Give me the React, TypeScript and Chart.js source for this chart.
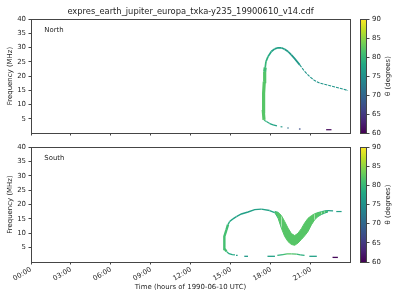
import React, { useEffect, useRef } from "react";
import { Chart, registerables } from "chart.js";

Chart.register(...registerables);

// ---------------- data ----------------
const TITLE = "expres_earth_jupiter_europa_txka-y235_19900610_v14.cdf";
const X_TITLE = "Time (hours of 1990-06-10 UTC)";
const Y_TITLE = "Frequency (MHz)";
const CB_TITLE = "θ (degrees)";
const X_TICK_HOURS = [0, 3, 6, 9, 12, 15, 18, 21];
const Y_TICKS = [5, 10, 15, 20, 25, 30, 35, 40];
const CB_TICKS = [60, 65, 70, 75, 80, 85, 90];
const X_MAX = 23.93;

// North hemisphere
const northBandTime = [17.48, 17.43, 17.43, 17.47, 17.5, 17.53, 17.57];
const northBandFreq = [4.6, 7.5, 10.5, 14.0, 18.0, 21.5, 23.0];
const northBandTheta = [82, 82, 82, 82, 82, 81.5, 80.5];

const northArcTime = [17.53, 17.57, 17.63, 17.78, 18.03, 18.28, 18.53, 18.78, 19.03, 19.28, 19.53, 19.78, 20.16];
const northArcFreq = [21.5, 23.0, 25.1, 26.8, 28.6, 29.5, 29.9, 29.9, 29.4, 28.6, 27.4, 26.1, 23.9];
const northArcTheta = [81, 80, 79.5, 78.5, 77.5, 77, 77, 77, 76.5, 76.5, 76, 76, 76];

const northTailTime = [20.16, 20.53, 20.9, 21.28, 21.66, 22.16, 22.66, 23.16, 23.78];
const northTailFreq = [23.9, 21.6, 19.8, 18.4, 17.5, 16.9, 16.3, 15.75, 14.9];
const northTailTheta = [76, 75.5, 75.5, 75.5, 75.5, 75.5, 75.5, 75.5, 75.5];

const northLowTime = [17.48, 17.56, 17.66, 17.91, 18.16, 18.45, 18.45, 18.72, 18.86, 18.86, 19.22, 19.34, 19.34, 20.1, 20.22, 20.22, 22.14, 22.54];
const northLowFreq = [4.6, 4.3, 4.0, 3.3, 2.85, 2.5, null, 2.2, 2.15, null, 1.75, 1.75, null, 1.4, 1.4, null, 1.15, 1.15];
const northLowTheta = [80, 80, 79, 78, 77.5, 77, 76, 76, 76, 71, 71, 71, 67, 67, 67, 60.5, 60.5, 60.5];

// South hemisphere
const southLeftTime = [14.66, 14.53, 14.48, 14.53, 14.66, 14.78];
const southLeftFreq = [3.7, 4.5, 6.6, 8.9, 11.2, 13.0];
const southLeftTheta = [81, 81, 81, 81, 81, 80];

const southArcTime = [14.78, 14.9, 15.15, 15.41, 15.78, 16.28, 16.78, 17.28, 17.9, 18.28];
const southArcFreq = [13.0, 14.1, 15.0, 15.8, 16.7, 17.4, 18.2, 18.4, 17.9, 17.2];
const southArcTheta = [79, 78, 77.5, 77, 77, 77, 77, 77, 77.5, 78];

const southLowTime = [14.66, 14.85, 15.1, 15.3, 15.3, 15.38, 15.5, 15.5, 16.0, 16.28, 16.28, 17.74, 18.3, 18.3, 18.48, 18.9, 19.2, 19.55, 19.93, 20.2, 20.52, 20.52, 20.88, 21.44, 21.44, 22.62, 23.02];
const southLowFreq = [3.7, 2.9, 2.6, 2.45, null, 2.3, 2.3, null, 1.98, 1.98, null, 1.98, 1.98, null, 2.3, 2.6, 2.8, 2.85, 2.75, 2.45, 2.3, null, 1.98, 1.98, null, 1.6, 1.6];
const southLowTheta = [80, 78, 78, 78, 78, 77, 77, 77, 76, 76, 76, 77, 77, 77, 78.5, 80, 82, 82, 81, 79, 78.5, 78.5, 77, 77, 77, 60.5, 60.5];

const southBandTime = [18.28, 18.53, 18.78, 19.03, 19.28, 19.53, 19.78, 20.03, 20.28, 20.53, 20.78, 21.03, 21.28, 21.53, 21.78, 22.03, 22.28];
const southBandLow = [17.2, 15.3, 11.8, 8.9, 7.1, 6.1, 5.8, 6.6, 7.8, 9.1, 10.6, 12.9, 14.7, 15.8, 16.5, 17.0, 17.4];
const southBandHigh = [17.6, 17.3, 16.2, 14.1, 11.8, 9.9, 9.2, 10.0, 11.6, 13.6, 15.2, 16.1, 16.8, 17.2, 17.5, 17.8, 17.9];
const southBandTheta = [79, 81, 82, 82, 82, 82, 82, 82, 82, 82, 82, 82, 82, 81, 80, 79, 78];

const southTailTime = [22.28, 22.66, 22.66, 22.9, 23.3];
const southTailFreq = [17.9, 17.8, null, 17.55, 17.55];
const southTailTheta = [77, 77, 77, 77, 77];

// ---------------- styling helpers ----------------
const FONT_FAMILY = "'DejaVu Sans', 'Liberation Sans', sans-serif";
const BASE = 6.94;
const TITLE_SIZE = 8.33;
const TEXT = "#262626";
const SPINE = "#454545";
const THETA_MIN = 60;
const THETA_MAX = 90;
const VIRIDIS = ["#440154", "#482475", "#414487", "#355f8d", "#2a788e", "#21918c", "#22a884", "#44bf70", "#7ad151", "#bddf26", "#fde725"];

function hexToRgb(h: string) {
  return [parseInt(h.slice(1, 3), 16), parseInt(h.slice(3, 5), 16), parseInt(h.slice(5, 7), 16)];
}
const VIR_RGB = VIRIDIS.map(hexToRgb);

function viridis(theta: number) {
  const t = Math.min(1, Math.max(0, (theta - THETA_MIN) / (THETA_MAX - THETA_MIN)));
  const p = t * (VIR_RGB.length - 1);
  const i = Math.min(VIR_RGB.length - 2, Math.floor(p));
  const f = p - i;
  const a = VIR_RGB[i];
  const b = VIR_RGB[i + 1];
  const c = a.map((v, k) => Math.round(v + (b[k] - v) * f));
  return `rgb(${c[0]},${c[1]},${c[2]})`;
}

type Series = { time: number[]; freq: (number | null)[]; theta: number[]; width: number; dash?: number[] };

function lineDataset(s: Series, extra: any = {}) {
  return {
    type: "line",
    data: s.time.map((t, i) => ({ x: t, y: s.freq[i] })),
    borderWidth: s.width,
    borderColor: viridis(s.theta[0]),
    backgroundColor: viridis(s.theta[0]),
    borderDash: s.dash || [],
    pointRadius: 0,
    pointHoverRadius: 0,
    fill: false,
    spanGaps: false,
    tension: 0,
    borderCapStyle: "butt",
    segment: {
      borderColor: (ctx: any) => viridis((s.theta[ctx.p0DataIndex] + s.theta[ctx.p1DataIndex]) / 2),
    },
    ...extra,
  };
}

const font = (size = BASE) => ({ family: FONT_FAMILY, size });

const framePlugin = {
  id: "frame",
  afterDatasetsDraw(chart: any) {
    const { ctx, chartArea: a } = chart;
    ctx.save();
    ctx.strokeStyle = SPINE;
    ctx.lineWidth = 1;
    ctx.strokeRect(a.left + 0.5, a.top + 0.5, a.right - a.left, a.bottom - a.top);
    ctx.restore();
  },
};

function textPlugin(label: string, title?: string) {
  return {
    id: "texts",
    afterDraw(chart: any) {
      const { ctx, chartArea: a } = chart;
      ctx.save();
      ctx.fillStyle = TEXT;
      ctx.textBaseline = "alphabetic";
      ctx.font = `${BASE}px ${FONT_FAMILY}`;
      ctx.textAlign = "left";
      ctx.fillText(label, a.left + 13.3, a.top + 13.3);
      if (title) {
        ctx.font = `${TITLE_SIZE}px ${FONT_FAMILY}`;
        ctx.textAlign = "center";
        ctx.fillText(title, (a.left + a.right) / 2, 13.8);
      }
      ctx.restore();
    },
  };
}

function panelConfig(p: {
  series: Series[];
  band?: { time: number[]; low: number[]; high: number[]; theta: number[] };
  label: string;
  padTop: number;
  xHeight: number;
  showX: boolean;
  title?: string;
}) {
  const datasets: any[] = p.series.map((s) => lineDataset(s));
  if (p.band) {
    const b = p.band;
    datasets.push(lineDataset({ time: b.time, freq: b.low, theta: b.theta, width: 1 }));
    datasets.push(
      lineDataset({ time: b.time, freq: b.high, theta: b.theta, width: 1 }, { fill: "-1", backgroundColor: viridis(82) })
    );
  }
  return {
    type: "line",
    data: { datasets },
    options: {
      animation: false,
      responsive: false,
      maintainAspectRatio: false,
      events: [],
      layout: { autoPadding: false, padding: { left: 0, right: 50, top: p.padTop, bottom: 0 } },
      plugins: { legend: { display: false }, tooltip: { enabled: false }, title: { display: false } },
      scales: {
        x: {
          type: "linear",
          min: 0,
          max: X_MAX,
          afterFit: (s: any) => {
            s.height = p.xHeight;
          },
          afterBuildTicks: (s: any) => {
            s.ticks = X_TICK_HOURS.map((v) => ({ value: v }));
          },
          ticks: {
            display: p.showX,
            autoSkip: false,
            minRotation: 30,
            maxRotation: 30,
            padding: 1,
            color: TEXT,
            font: font(),
            callback: (v: any) => String(v).padStart(2, "0") + ":00",
          },
          grid: { drawOnChartArea: false, drawTicks: true, tickLength: 2.5, color: SPINE, lineWidth: 1 },
          border: { display: false },
          title: {
            display: p.showX,
            text: X_TITLE,
            color: TEXT,
            font: font(),
            padding: { top: 0, bottom: 8.8 },
          },
        },
        y: {
          type: "linear",
          min: 0,
          max: 40,
          afterFit: (s: any) => {
            s.width = 31;
          },
          afterBuildTicks: (s: any) => {
            s.ticks = Y_TICKS.map((v) => ({ value: v }));
          },
          ticks: { padding: 2.5, color: TEXT, font: font() },
          grid: { drawOnChartArea: false, drawTicks: true, tickLength: 2.5, color: SPINE, lineWidth: 1 },
          border: { display: false },
          title: { display: true, text: Y_TITLE, color: TEXT, font: font(), padding: { top: 6, bottom: 0 } },
        },
      },
    },
    plugins: [framePlugin, textPlugin(p.label, p.title)],
  };
}

function colorbarConfig(padTop: number, padBottom: number) {
  const gradientPlugin = {
    id: "cbar",
    beforeDraw(chart: any) {
      const { ctx, chartArea: a } = chart;
      const g = ctx.createLinearGradient(0, a.bottom, 0, a.top);
      VIRIDIS.forEach((c, i) => g.addColorStop(i / (VIRIDIS.length - 1), c));
      ctx.save();
      ctx.fillStyle = g;
      ctx.fillRect(a.left, a.top, a.right - a.left, a.bottom - a.top);
      ctx.restore();
    },
    afterDraw(chart: any) {
      const { ctx, chartArea: a } = chart;
      ctx.save();
      ctx.strokeStyle = SPINE;
      ctx.lineWidth = 1;
      ctx.strokeRect(a.left + 0.5, a.top + 0.5, a.right - a.left - 1, a.bottom - a.top);
      ctx.translate(36, (a.top + a.bottom) / 2);
      ctx.rotate(-Math.PI / 2);
      ctx.fillStyle = TEXT;
      ctx.font = `${BASE}px ${FONT_FAMILY}`;
      ctx.textAlign = "center";
      ctx.textBaseline = "middle";
      ctx.fillText(CB_TITLE, 0, 0);
      ctx.restore();
    },
  };
  return {
    type: "line",
    data: { datasets: [] },
    options: {
      animation: false,
      responsive: false,
      maintainAspectRatio: false,
      events: [],
      layout: { autoPadding: false, padding: { left: 8, right: 0, top: padTop, bottom: padBottom } },
      plugins: { legend: { display: false }, tooltip: { enabled: false } },
      scales: {
        x: { type: "linear", display: false, min: 0, max: 1 },
        y: {
          type: "linear",
          position: "right",
          min: THETA_MIN,
          max: THETA_MAX,
          afterFit: (s: any) => {
            s.width = 33;
          },
          afterBuildTicks: (s: any) => {
            s.ticks = CB_TICKS.map((v) => ({ value: v }));
          },
          ticks: { padding: 2.5, color: TEXT, font: font() },
          grid: { drawOnChartArea: false, drawTicks: true, tickLength: 2.5, color: SPINE, lineWidth: 1 },
          border: { display: false },
        },
      },
    },
    plugins: [gradientPlugin],
  };
}

export default function App() {
  const northRef = useRef<HTMLCanvasElement>(null);
  const southRef = useRef<HTMLCanvasElement>(null);
  const cbNorthRef = useRef<HTMLCanvasElement>(null);
  const cbSouthRef = useRef<HTMLCanvasElement>(null);

  useEffect(() => {
    const charts: Chart[] = [];
    charts.push(
      new Chart(
        northRef.current as HTMLCanvasElement,
        panelConfig({
          series: [
            { time: northArcTime, freq: northArcFreq, theta: northArcTheta, width: 1.7 },
            { time: northBandTime, freq: northBandFreq, theta: northBandTheta, width: 3.2 },
            { time: northTailTime, freq: northTailFreq, theta: northTailTheta, width: 1.1, dash: [3, 1] },
            { time: northLowTime, freq: northLowFreq, theta: northLowTheta, width: 1.2 },
          ],
          label: "North",
          padTop: 19,
          xHeight: 7,
          showX: false,
          title: TITLE,
        }) as any
      )
    );
    charts.push(
      new Chart(
        southRef.current as HTMLCanvasElement,
        panelConfig({
          series: [
            { time: southLeftTime, freq: southLeftFreq, theta: southLeftTheta, width: 2.4 },
            { time: southArcTime, freq: southArcFreq, theta: southArcTheta, width: 1.4 },
            { time: southLowTime, freq: southLowFreq, theta: southLowTheta, width: 1.3 },
            { time: southTailTime, freq: southTailFreq, theta: southTailTheta, width: 1.2 },
          ],
          band: { time: southBandTime, low: southBandLow, high: southBandHigh, theta: southBandTheta },
          label: "South",
          padTop: 7,
          xHeight: 38,
          showX: true,
        }) as any
      )
    );
    charts.push(new Chart(cbNorthRef.current as HTMLCanvasElement, colorbarConfig(19, 7) as any));
    charts.push(new Chart(cbSouthRef.current as HTMLCanvasElement, colorbarConfig(7, 38) as any));
    return () => charts.forEach((c) => c.destroy());
  }, []);

  const abs = (left: number, top: number, width: number, height: number): React.CSSProperties => ({
    position: "absolute",
    left,
    top,
    width,
    height,
  });

  return (
    <div style={{ position: "absolute", left: 0, top: 0, width: 400, height: 300, background: "#fff" }}>
      <canvas ref={northRef} width={400} height={140} style={abs(0, 0, 400, 140)} />
      <canvas ref={southRef} width={400} height={160} style={abs(0, 140, 400, 160)} />
      <canvas ref={cbNorthRef} width={48} height={140} style={abs(352, 0, 48, 140)} />
      <canvas ref={cbSouthRef} width={48} height={160} style={abs(352, 140, 48, 160)} />
    </div>
  );
}
